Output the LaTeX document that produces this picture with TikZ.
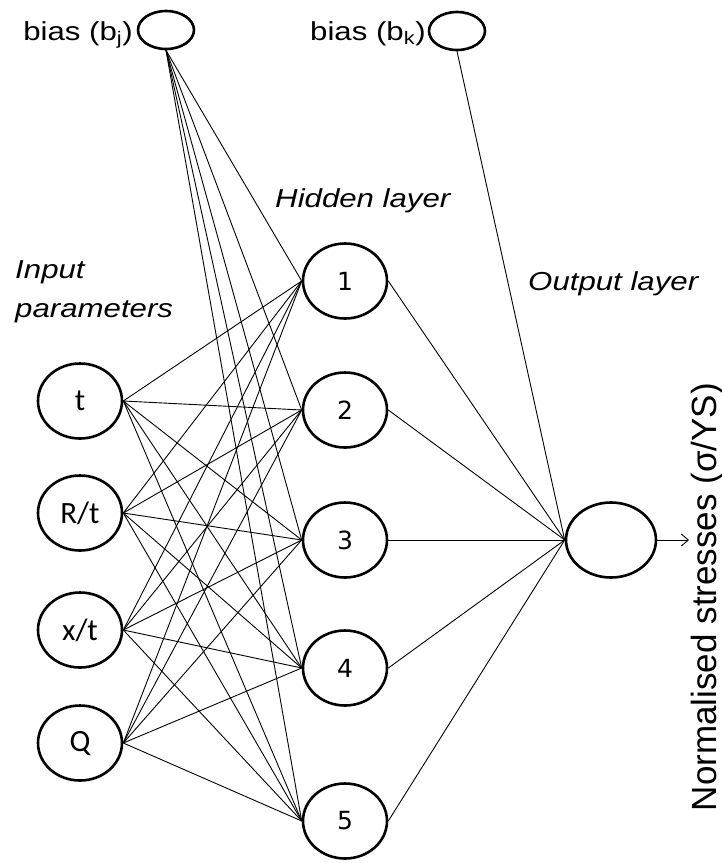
\documentclass[tikz,border=0pt]{standalone}
\usepackage{fontspec}
\setmainfont{Liberation Sans}
\newfontfamily\digitfont{DejaVu Sans}
\newfontfamily\inputfont{Carlito}
\usetikzlibrary{shapes.geometric,arrows.meta}
\begin{document}
\begin{tikzpicture}[x=1pt,y=-1pt,
  neuron/.style={draw,line width=2.6pt,ellipse,minimum width=84pt,minimum height=75pt,inner sep=0pt},
  hid/.style={neuron,font=\digitfont\fontsize{25}{30}\selectfont},
  inp/.style={neuron,font=\inputfont\fontsize{31}{36}\selectfont},
  biasnode/.style={draw,line width=2.6pt,ellipse,inner sep=0pt,minimum width=56pt,minimum height=38pt},
  lbl/.style={font=\fontsize{26}{30}\selectfont,xscale=1.2,inner sep=0pt},
  ilbl/.style={font=\itshape\fontsize{26}{39}\selectfont,xscale=1.2,inner sep=0pt},
  conn/.style={line width=0.9pt}]
\useasboundingbox (0,0) rectangle (722,863);
% bias nodes
\node[biasnode] (bj) at (166,30) {};
\node[biasnode] (bk) at (457,31) {};
\node[lbl,anchor=base east] (bjt) at (133,40) {bias (b\textsubscript{j})};
\node[lbl,anchor=base east] (bkt) at (426,40) {bias (b\textsubscript{k})};
% titles
\node[ilbl,anchor=base west] (hl) at (275,207) {Hidden layer};
\node[ilbl,anchor=base west] (ip1) at (15,278) {Input};
\node[ilbl,anchor=base west] (ip2) at (15,317) {parameters};
\node[ilbl,anchor=base west] (ol) at (528,290) {Output layer};
% input nodes
\node[inp] (i1) at (80,401) {t};
\node[inp] (i2) at (80,513) {R/t};
\node[inp] (i3) at (80,630) {x/t};
\node[inp] (i4) at (80,743) {Q};
% hidden nodes
\node[hid] (h1) at (345,281) {1};
\node[hid] (h2) at (345,410) {2};
\node[hid] (h3) at (345,540) {3};
\node[hid] (h4) at (345,668) {4};
\node[hid] (h5) at (345,821) {5};
% output
\node[neuron,minimum width=90pt,minimum height=75pt] (o) at (611,540) {};
\coordinate (oend) at (689,540);
\draw[conn,-{Straight Barb[length=7pt,width=12pt]}] (o.east) -- (oend);
\node[font=\fontsize{35}{40}\selectfont,rotate=90,inner sep=0pt] (ot) at (707,597) {Normalised stresses (σ/YS)};
% connections
\foreach \i in {i1,i2,i3,i4}{
  \foreach \h in {h1,h2,h3,h4,h5}{
    \draw[conn] (\i.east) -- (\h.west);
  }
}
\foreach \h in {h1,h2,h3,h4,h5}{
  \draw[conn] (bj.south) -- (\h.west);
  \draw[conn] (\h.east) -- (o.west);
}
\draw[conn] (bk.south) -- (o.west);
\end{tikzpicture}
\end{document}
